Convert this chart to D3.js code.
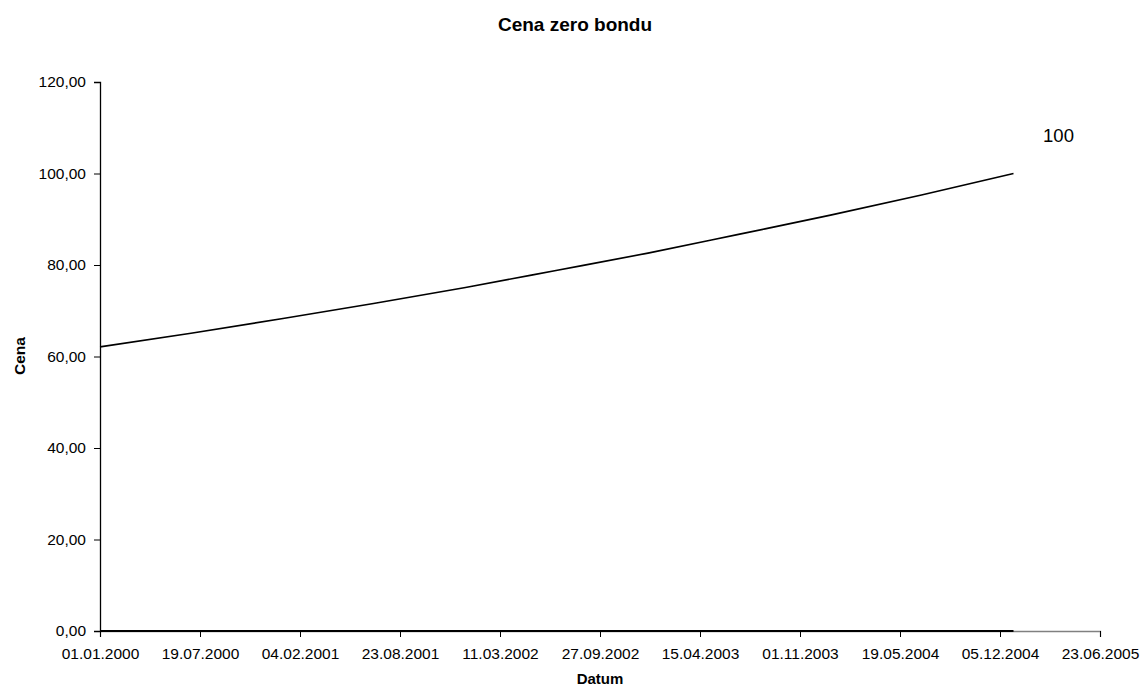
<!DOCTYPE html>
<html>
<head>
<meta charset="utf-8">
<script src="https://cdn.jsdelivr.net/npm/d3@7"></script>
<style>
  body { margin: 0; background: #fff; }
  svg { display: block; font-family: "Liberation Sans", Arial, sans-serif; }
</style>
</head>
<body>
<svg id="chart" width="1143" height="688"></svg>
<script>
// Zero-coupon bond price over time (face value 100 at maturity)
const dates  = ["01.01.2000","01.07.2000","01.01.2001","01.07.2001","01.01.2002","01.07.2002",
                "01.01.2003","01.07.2003","01.01.2004","01.07.2004","01.01.2005"];
const prices = [62.1, 65.1, 68.3, 71.6, 75.1, 78.8, 82.6, 86.7, 90.9, 95.3, 100.0];

// baseline series lying on the zero line
const baseDates  = ["01.01.2000", "01.01.2005"];
const baseValues = [0, 0];

const xTickLabels = ["01.01.2000","19.07.2000","04.02.2001","23.08.2001","11.03.2002","27.09.2002",
                     "15.04.2003","01.11.2003","19.05.2004","05.12.2004","23.06.2005"];
const yTicks = [0, 20, 40, 60, 80, 100, 120];

const endLabel = "100";

const parse = d3.utcParse("%d.%m.%Y");
const fmtY = v => d3.format(".2f")(v).replace(".", ",");

const svg = d3.select("#chart");
const plotLeft = 100, plotRight = 1100, plotTop = 82, plotBottom = 631;

const x = d3.scaleUtc()
  .domain([parse(xTickLabels[0]), parse(xTickLabels[xTickLabels.length - 1])])
  .range([plotLeft, plotRight]);
const y = d3.scaleLinear().domain([0, 120]).range([plotBottom, plotTop]);

// x axis (grey line, black ticks)
const xAxis = svg.append("g")
  .attr("transform", `translate(0,${plotBottom})`)
  .call(d3.axisBottom(x)
    .tickValues(xTickLabels.map(parse))
    .tickFormat(d3.utcFormat("%d.%m.%Y"))
    .tickSize(6).tickPadding(11));
xAxis.select(".domain").attr("stroke", "#808080").attr("stroke-width", 1.3);
xAxis.selectAll(".tick line").attr("stroke", "#000");
xAxis.selectAll(".tick text").attr("font-size", 15.5).attr("fill", "#000")
  .attr("font-family", "Liberation Sans, Arial, sans-serif");

// y axis
const yAxis = svg.append("g")
  .attr("transform", `translate(${plotLeft},0)`)
  .call(d3.axisLeft(y).tickValues(yTicks).tickFormat(fmtY).tickSize(6).tickPadding(8));
yAxis.select(".domain").attr("stroke", "#000").attr("stroke-width", 1.3);
yAxis.selectAll(".tick line").attr("stroke", "#000");
yAxis.selectAll(".tick text").attr("font-size", 15.5).attr("fill", "#000")
  .attr("font-family", "Liberation Sans, Arial, sans-serif");

// baseline series
svg.append("path")
  .datum(baseDates.map((d, i) => [parse(d), baseValues[i]]))
  .attr("fill", "none").attr("stroke", "#000").attr("stroke-width", 2)
  .attr("d", d3.line().x(d => x(d[0])).y(d => y(d[1])));

// price curve
const pts = dates.map((d, i) => [parse(d), prices[i]]);
svg.append("path")
  .datum(pts)
  .attr("fill", "none").attr("stroke", "#000").attr("stroke-width", 1.6)
  .attr("d", d3.line().x(d => x(d[0])).y(d => y(d[1])).curve(d3.curveMonotoneX));

// label at maturity
const last = pts[pts.length - 1];
svg.append("text")
  .attr("x", x(last[0]) + 45).attr("y", y(last[1]) - 32)
  .attr("text-anchor", "middle").attr("font-size", 18.5).attr("fill", "#000")
  .text(endLabel);

// titles
svg.append("text")
  .attr("x", 575).attr("y", 31).attr("text-anchor", "middle")
  .attr("font-size", 19).attr("font-weight", "bold")
  .text("Cena zero bondu");

svg.append("text")
  .attr("x", 600).attr("y", 684).attr("text-anchor", "middle")
  .attr("font-size", 15).attr("font-weight", "bold")
  .text("Datum");

svg.append("text")
  .attr("transform", "translate(25,356) rotate(-90)")
  .attr("text-anchor", "middle")
  .attr("font-size", 15.5).attr("font-weight", "bold")
  .text("Cena");
</script>
</body>
</html>
